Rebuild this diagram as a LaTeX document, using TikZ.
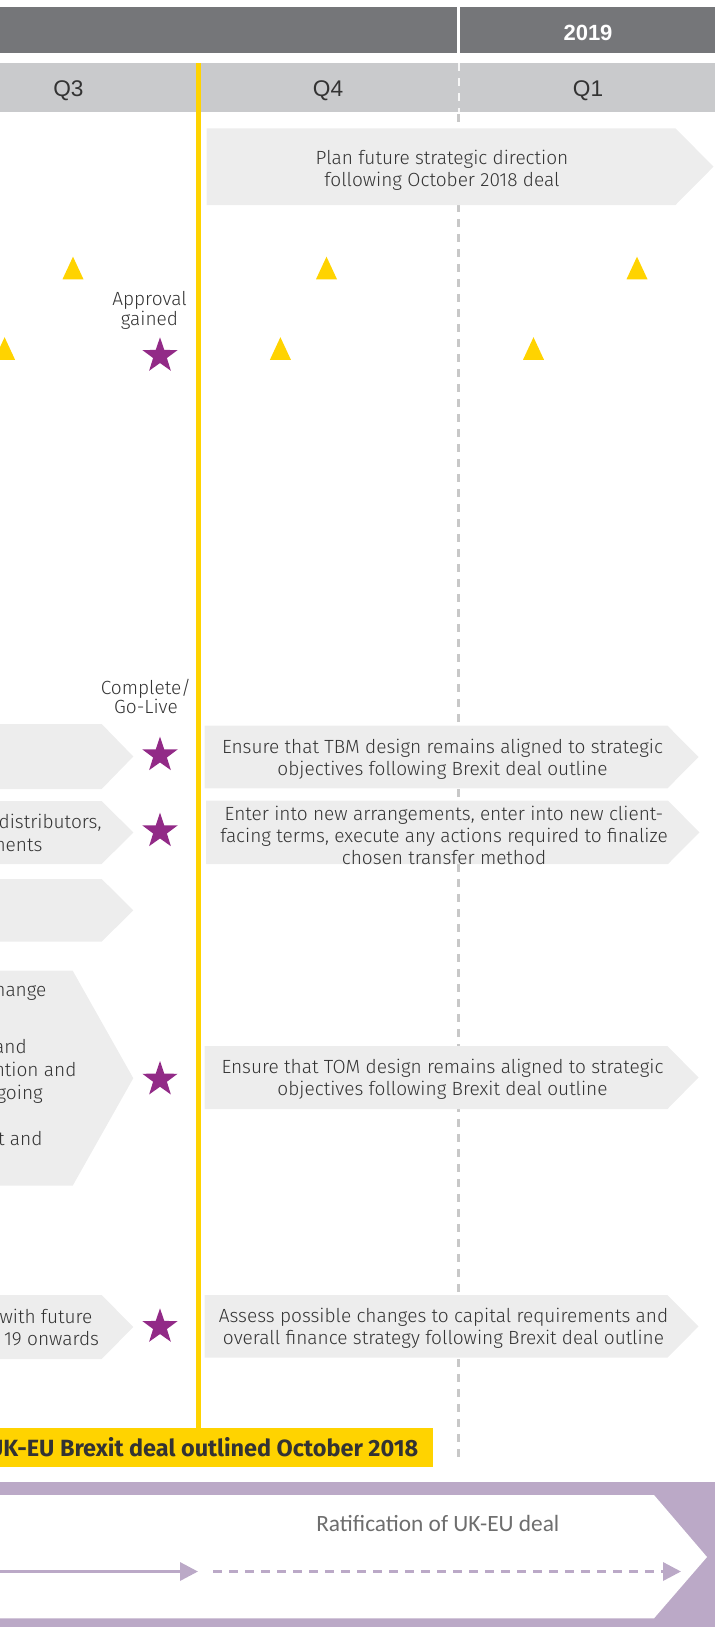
\documentclass[tikz,border=0pt]{standalone}
\usepackage{fontspec}
\setmainfont{Fira Sans}[UprightFont={* Light},BoldFont={* Bold}]
\newfontfamily\arialfont{Liberation Sans}
\newfontfamily\calfont{Carlito}
\usetikzlibrary{shapes.geometric,arrows.meta}
\definecolor{hdrdark}{HTML}{757679}
\definecolor{hdrlight}{HTML}{C9CACC}
\definecolor{boxgray}{HTML}{EDEDED}
\definecolor{eyyellow}{HTML}{FFD300}
\definecolor{starpurple}{HTML}{922A87}
\definecolor{bandpurple}{HTML}{BBA9C7}
\definecolor{dashgray}{HTML}{C8C8C8}
\definecolor{txt}{HTML}{333333}
\definecolor{ratgray}{HTML}{6E6E6E}
\begin{document}
\begin{tikzpicture}[x=0.75pt,y=-0.75pt,
  body/.style={font=\fontsize{14.3}{16.5}\selectfont, text=txt, align=center, inner sep=0pt},
  frag/.style={font=\fontsize{14.3}{16.5}\selectfont, text=txt, inner sep=0pt, anchor=base east},
  mlbl/.style={font=\fontsize{14.3}{15}\selectfont, text=txt, align=center, inner sep=0pt},
  qlbl/.style={font=\arialfont\fontsize{17}{20}\selectfont, text=txt, anchor=base, inner sep=0pt},
  yearlbl/.style={font=\arialfont\bfseries\fontsize{16.5}{20}\selectfont, text=white, anchor=base, inner sep=0pt},
  chev/.style={fill=boxgray},
  mstar/.style={star, star points=5, star point ratio=2.55, fill=starpurple, draw=none, inner sep=0pt, minimum size=27.75pt},
  tri/.pic={\fill[eyyellow] (-10.5,11.3)--(0,-11.3)--(10.5,11.3)--cycle;},
  parrow/.style={draw=bandpurple, line width=2.5pt, -{Triangle[length=13.5pt,width=13.5pt]}},
]
\useasboundingbox (0,0) rectangle (715,1627);
\clip (0,0) rectangle (715,1627);
% header bars
\fill[hdrdark] (0,6.7) rectangle (715,53.3);
\fill[white] (457,6.7) rectangle (460,53.3);
\node[yearlbl] (y2019) at (588,40.7) {2019};
\fill[hdrlight] (0,63.3) rectangle (715,111.7);
\node[qlbl] (q3) at (68.4,96) {Q3};
\node[qlbl] (q4) at (328,96) {Q4};
\node[qlbl] (q1) at (588,96) {Q1};
% vertical lines
\draw[white!85!hdrlight, line width=1.5pt, dash pattern=on 6pt off 5.25pt] (458.5,63.3) -- (458.5,111.7);
\draw[dashgray, line width=2.25pt, dash pattern=on 6pt off 5.25pt] (458.5,114) -- (458.5,1462);
\draw[eyyellow, line width=3.75pt] (198,63.3) -- (198,1428.3);
% right chevrons
\fill[chev] (206.5,128.3) -- (675.5,128.3) -- (713.5,166.7) -- (675.5,205) -- (206.5,205) -- cycle;
\fill[chev] (204.5,725.7) -- (667.5,725.7) -- (698.5,757) -- (667.5,788.3) -- (204.5,788.3) -- cycle;
\fill[chev] (206,800.7) -- (668,800.7) -- (699.5,832.3) -- (668,864) -- (206,864) -- cycle;
\fill[chev] (204.5,1046) -- (667.5,1046) -- (698.5,1077.5) -- (667.5,1109) -- (204.5,1109) -- cycle;
\fill[chev] (204.5,1295) -- (667.5,1295) -- (698.5,1326.4) -- (667.5,1357.7) -- (204.5,1357.7) -- cycle;
% left chevrons
\fill[chev] (-10,724) -- (101.7,724) -- (133.3,756.5) -- (101.7,789) -- (-10,789) -- cycle;
\fill[chev] (-10,801) -- (101.7,801) -- (133.3,832.5) -- (101.7,864) -- (-10,864) -- cycle;
\fill[chev] (-10,879) -- (101.7,879) -- (133.3,910.3) -- (101.7,941.7) -- (-10,941.7) -- cycle;
\fill[chev] (-10,970.7) -- (72.7,970.7) -- (133.3,1078.2) -- (72.7,1185.7) -- (-10,1185.7) -- cycle;
\fill[chev] (-10,1295) -- (101.7,1295) -- (133.3,1327) -- (101.7,1359) -- (-10,1359) -- cycle;
% right texts
\node[body] (plan) at (442,170.3) {Plan future strategic direction\\following October 2018 deal};
\node[body] (tbm) at (442.5,759) {Ensure that TBM design remains aligned to strategic\\objectives following Brexit deal outline};
\node[body] (trans) at (444,835) {Enter into new arrangements, enter into new client-\\facing terms, execute any actions required to finalize\\chosen transfer method};
\node[body] (tom) at (442.5,1079.5) {Ensure that TOM design remains aligned to strategic\\objectives following Brexit deal outline};
\node[body] (fin) at (443.5,1328.3) {Assess possible changes to capital requirements and\\overall finance strategy following Brexit deal outline};
% left text fragments
\node[frag] (f1) at (101.7,828.3) {distributors,};
\node[frag] (f2) at (42.7,851.7) {nents};
\node[frag] (f3) at (46.7,996.7) {hange};
\node[frag] (f4) at (27,1053.3) {and};
\node[frag] (f5) at (76.7,1076) {ntion and};
\node[frag] (f6) at (43,1099) {going};
\node[frag] (f7) at (42.7,1145) {t and};
\node[frag] (f8) at (92.7,1323.3) {with future};
\node[frag] (f9) at (99.3,1345.7) {19 onwards};
% milestone labels
\node[mlbl] (appr) at (149.5,310) {Approval\\gained};
\node[mlbl, font=\fontsize{14.3}{14}\selectfont] (golive) at (146,696.5) {Complete/\\Go-Live};
% stars
\node[mstar] (s1) at (160,355.8) {};
\node[mstar] (s2) at (160,755.2) {};
\node[mstar] (s3) at (160,831.2) {};
\node[mstar] (s4) at (160,1079.5) {};
\node[mstar] (s5) at (160,1326.8) {};
% triangles
\pic at (73,268) {tri};
\pic at (326.5,268) {tri};
\pic at (637,268) {tri};
\pic at (4.6,348.5) {tri};
\pic at (280.4,348.5) {tri};
\pic at (533.5,348.5) {tri};
% yellow deal box
\fill[eyyellow] (0,1428.3) rectangle (433,1467.3);
\node[font=\bfseries\fontsize{17.6}{20}\selectfont, text=txt, inner sep=0pt, anchor=base east] (deal) at (418.6,1456) {UK-EU Brexit deal outlined October 2018};
% purple band
\fill[bandpurple] (0,1482) rectangle (715,1627);
\fill[white] (-10,1495) -- (654,1495) -- (707,1557) -- (654,1618.3) -- (-10,1618.3) -- cycle;
\node[font=\calfont\fontsize{17.5}{20}\selectfont, text=ratgray, inner sep=0pt, anchor=base] (ratif) at (437.8,1531.7) {Ratification of UK-EU deal};
\coordinate (a0) at (-5,1571.5);
\coordinate (a1) at (198,1571.5);
\coordinate (b0) at (213,1571.5);
\coordinate (b1) at (681,1571.5);
\draw[parrow] (a0) -- (a1);
\draw[parrow, dash pattern=on 6.75pt off 5.25pt] (b0) -- (b1);
\end{tikzpicture}
\end{document}
